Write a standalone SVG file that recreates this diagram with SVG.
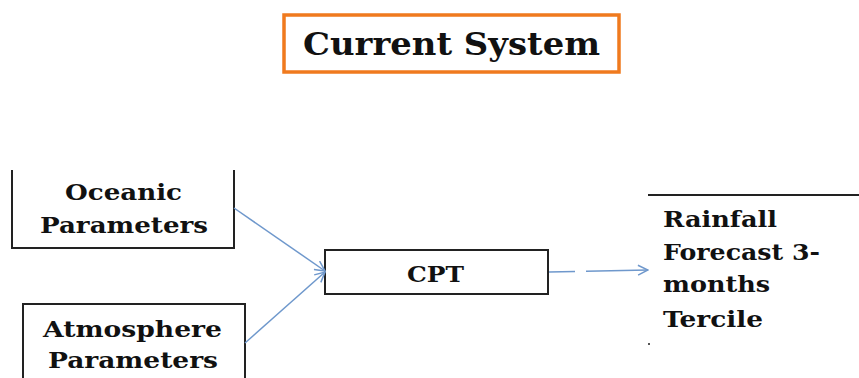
<svg xmlns="http://www.w3.org/2000/svg" width="859" height="378" viewBox="0 0 859 378">
  <style>
    .lbl { font-family: "DejaVu Serif", "Liberation Serif", serif; font-weight: bold; fill: #111; font-size: 22px; }
    .box { fill: #fff; stroke: #222; stroke-width: 2; }
    .edge { fill: none; stroke: #6f98cc; stroke-width: 1.5; }
  </style>
  <defs>
    <marker id="open" viewBox="0 0 12 12" refX="11" refY="6" markerWidth="12" markerHeight="12" markerUnits="userSpaceOnUse" orient="auto">
      <path d="M1,1 L11,6 L1,11" fill="none" stroke="#6f98cc" stroke-width="1.5"/>
    </marker>
  </defs>
  <rect width="859" height="378" fill="#fff"/>

  <g id="title">
    <rect x="284" y="15" width="335" height="57" fill="#fff" stroke="#f07a1e" stroke-width="3.5"/>
    <text class="lbl" x="303" y="55" style="font-size:31px" textLength="297" lengthAdjust="spacingAndGlyphs">Current System</text>
  </g>

  <g id="oceanic">
    <path class="box" d="M12,170 L12,248 L234,248 L234,170"/>
    <text class="lbl" x="65" y="200" textLength="117" lengthAdjust="spacingAndGlyphs">Oceanic</text>
    <text class="lbl" x="40" y="233" textLength="168" lengthAdjust="spacingAndGlyphs">Parameters</text>
  </g>

  <g id="atmosphere">
    <path class="box" d="M23,378 L23,304 L245,304 L245,378"/>
    <text class="lbl" x="43" y="337" textLength="179" lengthAdjust="spacingAndGlyphs">Atmosphere</text>
    <text class="lbl" x="48" y="368" textLength="170" lengthAdjust="spacingAndGlyphs">Parameters</text>
  </g>

  <g id="cpt">
    <rect class="box" x="325" y="250" width="223" height="44"/>
    <text class="lbl" x="407" y="282" textLength="57" lengthAdjust="spacingAndGlyphs">CPT</text>
  </g>

  <g id="forecast">
    <line x1="648" y1="195" x2="859" y2="195" stroke="#222" stroke-width="2"/>
    <rect x="648" y="343" width="2" height="2" fill="#555"/>
    <text class="lbl" x="663" y="227" textLength="114" lengthAdjust="spacingAndGlyphs">Rainfall</text>
    <text class="lbl" x="663" y="260" textLength="157" lengthAdjust="spacingAndGlyphs">Forecast 3-</text>
    <text class="lbl" x="663" y="292" textLength="107" lengthAdjust="spacingAndGlyphs">months</text>
    <text class="lbl" x="663" y="327" textLength="100" lengthAdjust="spacingAndGlyphs">Tercile</text>
  </g>

  <g id="connectors">
    <line class="edge" x1="234" y1="208" x2="325" y2="271" marker-end="url(#open)"/>
    <line class="edge" x1="245" y1="343" x2="325" y2="272" marker-end="url(#open)"/>
    <line class="edge" x1="549" y1="272" x2="648" y2="270" stroke-dasharray="26 11 100" marker-end="url(#open)"/>
  </g>
</svg>
